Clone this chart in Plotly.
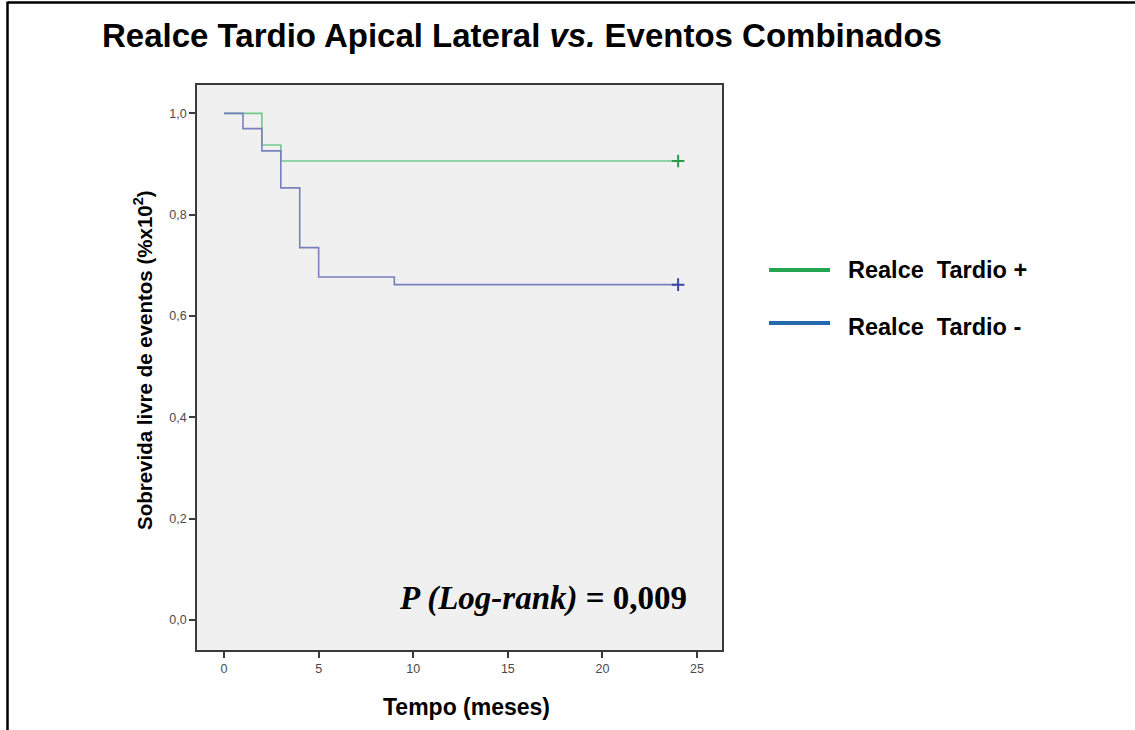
import plotly.graph_objects as go

# Kaplan-Meier step data (time in months, event-free survival)
time_pos = [0, 2, 3, 24]
surv_pos = [1.0, 0.9375, 0.906, 0.906]
time_neg = [0, 1, 2, 3, 4, 5, 9, 24]
surv_neg = [1.0, 0.970, 0.926, 0.853, 0.735, 0.677, 0.662, 0.662]
censor_time = [24]
label_pos = "Realce&nbsp; Tardio +"
label_neg = "Realce&nbsp; Tardio -"

x_ticks = [0, 5, 10, 15, 20, 25]
y_ticks = [0.0, 0.2, 0.4, 0.6, 0.8, 1.0]
y_ticktext = ["0,0", "0,2", "0,4", "0,6", "0,8", "1,0"]

W, H = 1135, 730
L, R, T, B = 197, 722, 85, 650  # plot box in pixels


def px(x):
    return (x - L) / (R - L)


def py(y):
    return (B - y) / (B - T)


fig = go.Figure()

fig.add_trace(go.Scatter(x=time_pos, y=surv_pos, mode="lines", line=dict(shape="hv", color="#72c98a", width=1.6),
                         showlegend=False, hoverinfo="skip"))
fig.add_trace(go.Scatter(x=time_neg, y=surv_neg, mode="lines", line=dict(shape="hv", color="#7a80bd", width=1.6),
                         showlegend=False, hoverinfo="skip"))
fig.add_trace(go.Scatter(x=censor_time, y=[surv_pos[-1]], mode="markers",
                         marker=dict(symbol="cross-thin", size=9, line=dict(color="#2e9a4e", width=2)),
                         showlegend=False, hoverinfo="skip"))
fig.add_trace(go.Scatter(x=censor_time, y=[surv_neg[-1]], mode="markers",
                         marker=dict(symbol="cross-thin", size=9, line=dict(color="#3a4aa0", width=2)),
                         showlegend=False, hoverinfo="skip"))

axis_common = dict(showline=True, linecolor="#3a3a3a", linewidth=1.5, mirror=True, showgrid=False, zeroline=False,
                   ticks="outside", ticklen=6, tickwidth=1.5, tickcolor="#3a3a3a",
                   tickfont=dict(family="Liberation Sans, Arial", size=12.5, color="#4a4a4a"))

fig.update_xaxes(range=[-1.43, 26.32], tickvals=x_ticks, ticktext=[str(v) for v in x_ticks], **axis_common)
fig.update_yaxes(range=[-0.059, 1.056], tickvals=y_ticks, ticktext=y_ticktext, **axis_common)

title = "<b>Realce Tardio Apical Lateral <i>vs.</i> Eventos Combinados</b>"

annotations = [
    dict(text=title, x=px(100), y=py(35),
         xanchor="left", yanchor="middle", font=dict(family="Liberation Sans, Arial", size=33, color="#000000")),
    dict(text="<b>Sobrevida livre de eventos (%x10<sup>2</sup>)</b>", x=px(143), y=py(360), textangle=-90,
         xanchor="center", yanchor="middle", font=dict(family="Liberation Sans, Arial", size=20.5, color="#000000")),
    dict(text="<b>Tempo (meses)</b>", x=px(466), y=py(707), xanchor="center", yanchor="middle",
         font=dict(family="Liberation Sans, Arial", size=23, color="#000000")),
    dict(text="<b><i>P (Log-rank)</i> = 0,009</b>", x=px(689), y=py(598), xanchor="right", yanchor="middle",
         font=dict(family="Liberation Serif, Times New Roman", size=33, color="#000000")),
    dict(text="<b>" + label_pos + "</b>", x=px(846), y=py(270), xanchor="left", yanchor="middle",
         font=dict(family="Liberation Sans, Arial", size=23.5, color="#000000")),
    dict(text="<b>" + label_neg + "</b>", x=px(846), y=py(327), xanchor="left", yanchor="middle",
         font=dict(family="Liberation Sans, Arial", size=23.5, color="#000000")),
]
for a in annotations:
    a.update(xref="paper", yref="paper", showarrow=False)

shapes = [
    # legend keys
    dict(type="line", x0=px(769), x1=px(830), y0=py(270), y1=py(270), line=dict(color="#23a552", width=4)),
    dict(type="line", x0=px(769), x1=px(830), y0=py(323), y1=py(323), line=dict(color="#2369b0", width=4)),
    # outer frame (top and left edges)
    dict(type="line", x0=px(8), x1=px(W + 5), y0=py(2.5), y1=py(2.5), line=dict(color="#000000", width=2.5)),
    dict(type="line", x0=px(7.5), x1=px(7.5), y0=py(1.5), y1=py(H + 5), line=dict(color="#000000", width=2.5)),
]
for s in shapes:
    s.update(xref="paper", yref="paper")

fig.update_layout(
    width=W, height=H,
    margin=dict(l=L, r=W - R, t=T, b=H - B),
    paper_bgcolor="#ffffff", plot_bgcolor="#f0f0f0",
    annotations=annotations, shapes=shapes, showlegend=False,
)

fig.write_html("out.html")
